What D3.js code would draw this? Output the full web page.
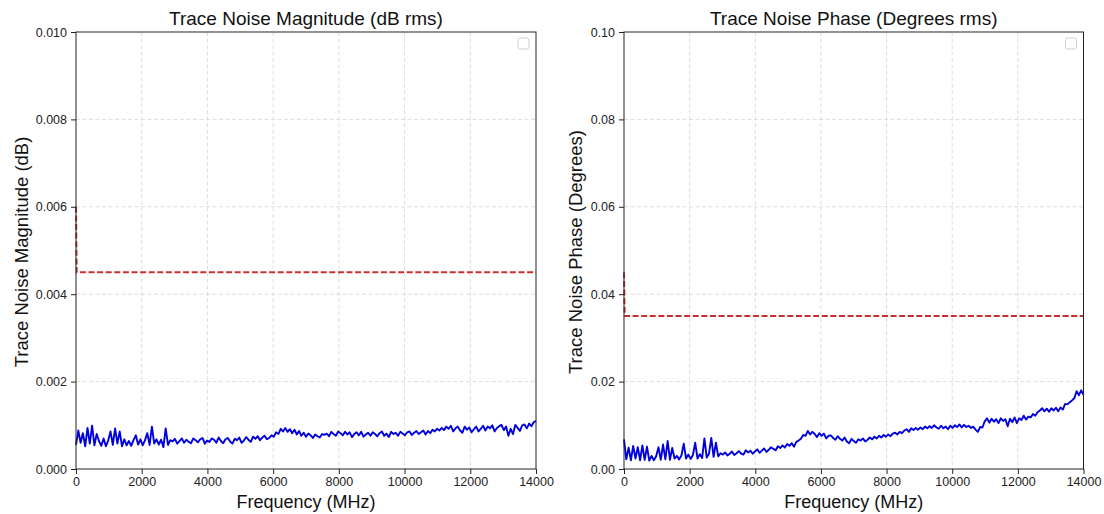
<!DOCTYPE html>
<html>
  <head>
    <meta charset="utf-8">
    <title>Trace Noise</title>
    <style>
      body { margin: 0; background: #fff; }
      svg { font-family: "Liberation Sans", Arial, sans-serif; }
      .grid line { stroke: #d4d4d4; stroke-dasharray: 4,2.5; stroke-width: 0.8px; }
      .axis path, .axis line { stroke: #222; }
      .axis text { fill: #222; font-size: 12.5px; }
    </style>
  </head>
  <body>
    <svg width="1104" height="514"></svg>
    <script src="https://d3js.org/d3.v7.min.js"></script>
    <script>
      // sweep goes 0..14000 MHz, values are evenly spaced over it
      const freqMax = 14000;
      const xTicks = [0, 2000, 4000, 6000, 8000, 10000, 12000, 14000];

      // trace noise magnitude, milli-dB rms
      const magMilliDb = [
        0.55, 0.88, 0.60, 0.82, 0.52, 0.94, 0.58, 0.99, 0.54, 0.80,
        0.64, 0.53, 0.70, 0.52, 0.65, 0.86, 0.55, 0.93, 0.58, 0.86,
        0.52, 0.68, 0.54, 0.64, 0.53, 0.66, 0.77, 0.56, 0.68, 0.54,
        0.66, 0.82, 0.55, 0.97, 0.58, 0.68, 0.56, 0.67, 0.50, 0.93,
        0.55, 0.66, 0.63, 0.69, 0.58, 0.64, 0.70, 0.60, 0.67, 0.62,
        0.59, 0.70, 0.66, 0.61, 0.68, 0.71, 0.58, 0.65, 0.62, 0.70,
        0.67, 0.60, 0.72, 0.64, 0.59, 0.68, 0.71, 0.63, 0.58, 0.69,
        0.66, 0.72, 0.60, 0.65, 0.73, 0.67, 0.62, 0.74, 0.69, 0.75,
        0.66, 0.72, 0.76, 0.68, 0.71, 0.77, 0.74, 0.84, 0.80, 0.92,
        0.86, 0.94, 0.85, 0.91, 0.82, 0.90, 0.79, 0.87, 0.76, 0.83,
        0.74, 0.81, 0.77, 0.71, 0.79, 0.75, 0.72, 0.80, 0.78, 0.81,
        0.75, 0.85, 0.80, 0.76, 0.86, 0.82, 0.77, 0.85, 0.79, 0.84,
        0.73, 0.80, 0.84, 0.77, 0.85, 0.74, 0.79, 0.83, 0.76, 0.84,
        0.80, 0.75, 0.82, 0.86, 0.76, 0.81, 0.73, 0.85, 0.80, 0.83,
        0.76, 0.85, 0.81, 0.77, 0.84, 0.86, 0.78, 0.83, 0.87, 0.80,
        0.84, 0.88, 0.79, 0.87, 0.82, 0.90, 0.86, 0.92, 0.88, 0.94,
        0.89, 0.97, 0.92, 0.99, 0.86, 0.93, 0.97, 0.88, 0.83, 0.97,
        0.90, 0.95, 0.84, 0.91, 0.97, 0.86, 0.92, 0.99, 0.88, 0.97,
        0.93, 1.00, 0.86, 0.94, 0.98, 1.01, 0.89, 0.97, 0.76, 0.92,
        0.80, 1.01, 0.94, 0.87, 1.00, 1.02, 0.93, 1.04, 0.98, 1.07,
        1.10
      ];

      // trace noise phase, milli-degrees rms
      const phaseMilliDeg = [
        6.8, 2.2, 4.9, 2.0, 5.3, 2.4, 5.0, 2.0, 5.4, 2.1,
        5.1, 1.9, 3.0, 2.0, 2.9, 5.0, 2.1, 5.6, 2.2, 6.4,
        2.1, 4.8, 2.4, 3.0, 2.2, 3.1, 5.8, 2.4, 3.3, 2.3,
        3.2, 6.0, 2.4, 3.4, 2.5, 7.0, 2.6, 3.5, 7.1, 2.8,
        6.0, 2.9, 3.6, 3.3, 3.8, 3.1, 3.5, 4.0, 3.2, 3.6,
        4.1, 3.5, 3.3, 4.3, 3.8, 4.2, 3.5, 4.0, 4.5, 3.7,
        4.2, 4.7, 3.9, 4.4, 5.0, 4.6, 4.3, 5.2, 4.8, 5.4,
        4.9, 5.7, 5.3, 5.9, 5.1, 6.2, 6.5, 6.9, 7.8, 7.6,
        8.7, 7.9, 8.5, 8.0, 7.3, 8.2, 7.6, 8.1, 7.0, 7.6,
        7.7, 7.1, 6.7, 7.5, 6.9, 6.5, 7.2, 6.3, 5.9, 6.9,
        6.4, 6.0, 6.8, 6.5, 7.0, 6.3, 6.7, 7.2, 6.8, 7.4,
        7.0, 7.6, 7.2, 7.8, 7.4, 7.9, 7.5, 8.1, 8.3, 7.9,
        8.5, 8.2, 8.8, 9.1, 8.5, 9.3, 8.9, 9.4, 9.0, 9.5,
        9.1, 9.7, 9.3, 9.8, 9.4, 10.0, 9.5, 9.2, 9.9, 9.3,
        9.7, 9.1, 9.9, 9.4, 10.0, 9.6, 10.2, 9.5, 10.1, 9.6,
        9.9, 9.4, 9.7, 9.0, 8.5, 9.6, 9.5, 10.9, 11.6, 10.6,
        11.5, 10.8, 11.4, 10.5, 11.6, 11.0, 11.4, 9.8, 11.5, 10.7,
        11.8, 10.5, 11.6, 11.2, 12.2, 11.3, 12.0, 11.8, 12.6, 12.2,
        13.0, 13.4, 13.9, 13.2, 13.8, 13.1, 13.9, 13.4, 14.0, 13.2,
        14.1, 13.6, 14.9, 14.8, 15.3, 15.7, 16.2, 17.8, 16.9, 18.0,
        17.0
      ];

      // spec limit lines: [freq, value]
      const magLimit = [[0, 0.006], [20, 0.0045], [14000, 0.0045]];
      const phaseLimit = [[0, 0.045], [20, 0.035], [14000, 0.035]];

      const magTicks = [0, 0.002, 0.004, 0.006, 0.008, 0.010];
      const phaseTicks = [0, 0.02, 0.04, 0.06, 0.08, 0.10];

      const svg = d3.select("svg");
      const plotTop = 32, plotBottom = 469;

      function toPoints(vals) {
        const n = vals.length - 1;
        return vals.map((v, i) => [i * freqMax / n, v / 1000]);
      }

      function panel(opt) {
        const x = d3.scaleLinear().domain([0, freqMax]).range([opt.left, opt.right]);
        const y = d3.scaleLinear().domain([0, opt.yMax]).range([plotBottom, plotTop]);
        const g = svg.append("g");

        // grid
        const grid = g.append("g").attr("class", "grid");
        grid.selectAll(".gx").data(xTicks.slice(1, -1)).join("line")
          .attr("x1", d => x(d)).attr("x2", d => x(d))
          .attr("y1", plotTop).attr("y2", plotBottom);
        grid.selectAll(".gy").data(opt.yTicks.slice(1, -1)).join("line")
          .attr("y1", d => y(d)).attr("y2", d => y(d))
          .attr("x1", opt.left).attr("x2", opt.right);

        const line = d3.line().x(d => x(d[0])).y(d => y(d[1]));

        g.append("path")
          .datum(opt.limit)
          .attr("d", line)
          .attr("fill", "none")
          .attr("stroke", "#c8302e")
          .attr("stroke-width", 2)
          .attr("stroke-dasharray", "6,2.6");

        g.append("path")
          .datum(toPoints(opt.values))
          .attr("d", line)
          .attr("fill", "none")
          .attr("stroke", "#0000dd")
          .attr("stroke-width", 1.9)
          .attr("stroke-linejoin", "round");

        // axes
        g.append("g").attr("class", "axis")
          .attr("transform", `translate(0,${plotBottom})`)
          .call(d3.axisBottom(x).tickValues(xTicks).tickSize(5).tickPadding(3).tickFormat(d3.format("d")));
        g.append("g").attr("class", "axis")
          .attr("transform", `translate(${opt.left},0)`)
          .call(d3.axisLeft(y).tickValues(opt.yTicks).tickSize(5).tickPadding(4).tickFormat(d3.format(opt.fmt)));
        g.selectAll(".axis .domain").remove();

        // frame
        g.append("rect")
          .attr("x", opt.left).attr("y", plotTop)
          .attr("width", opt.right - opt.left).attr("height", plotBottom - plotTop)
          .attr("fill", "none").attr("stroke", "#222").attr("stroke-width", 1);

        // empty legend box
        g.append("rect")
          .attr("x", opt.right - 18).attr("y", plotTop + 6)
          .attr("width", 11).attr("height", 11).attr("rx", 2)
          .attr("fill", "#fff").attr("stroke", "#d0d0d0");

        const cx = (opt.left + opt.right) / 2;
        g.append("text").attr("x", cx).attr("y", 24.5)
          .attr("text-anchor", "middle").style("font-size", "19px").attr("fill", "#111")
          .text(opt.title);
        g.append("text").attr("x", cx).attr("y", 508)
          .attr("text-anchor", "middle").style("font-size", "18px").attr("fill", "#111")
          .text("Frequency (MHz)");
        g.append("text")
          .attr("transform", `translate(${opt.labelX},252) rotate(-90)`)
          .attr("text-anchor", "middle").style("font-size", "18.5px").attr("fill", "#111")
          .text(opt.yLabel);
      }

      panel({
        left: 76, right: 536, yMax: 0.010, yTicks: magTicks, fmt: ".3f",
        values: magMilliDb, limit: magLimit, labelX: 28,
        title: "Trace Noise Magnitude (dB rms)", yLabel: "Trace Noise Magnitude (dB)"
      });
      panel({
        left: 624, right: 1083.5, yMax: 0.10, yTicks: phaseTicks, fmt: ".2f",
        values: phaseMilliDeg, limit: phaseLimit, labelX: 582,
        title: "Trace Noise Phase (Degrees rms)", yLabel: "Trace Noise Phase (Degrees)"
      });
    </script>
  </body>
</html>
